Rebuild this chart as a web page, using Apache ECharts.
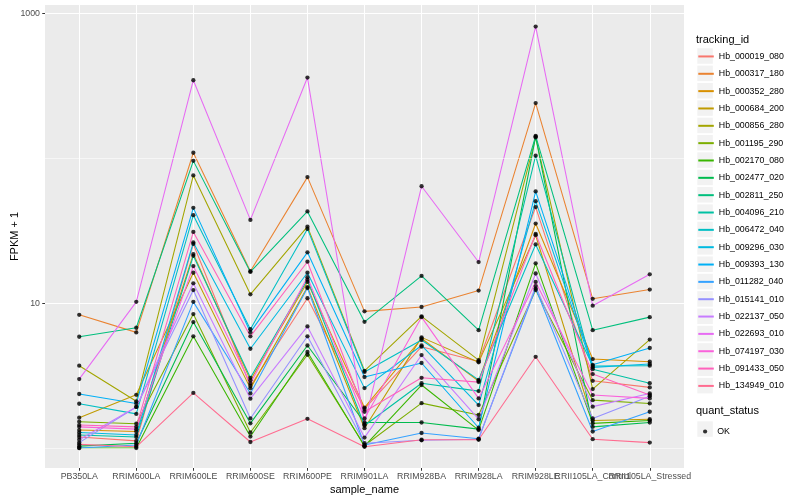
<!DOCTYPE html>
<html><head><meta charset="utf-8">
<script src="https://cdn.jsdelivr.net/npm/echarts@6/dist/echarts.min.js"></script>
<style>html,body{margin:0;padding:0;background:#fff}#c{width:800px;height:500px}</style>
</head><body><div id="c"></div>
<script>
// ---- data ----
const categories = ["PB350LA","RRIM600LA","RRIM600LE","RRIM600SE","RRIM600PE","RRIM901LA","RRIM928BA","RRIM928LA","RRIM928LE","RRII105LA_Control","RRII105LA_Stressed"];
const trackingIds = ["Hb_000019_080","Hb_000317_180","Hb_000352_280","Hb_000684_200","Hb_000856_280","Hb_001195_290","Hb_002170_080","Hb_002477_020","Hb_002811_250","Hb_004096_210","Hb_006472_040","Hb_009296_030","Hb_009393_130","Hb_011282_040","Hb_015141_010","Hb_022137_050","Hb_022693_010","Hb_074197_030","Hb_091433_050","Hb_134949_010"];
const colors = ["#F8766D","#EA8331","#D89000","#C09B00","#A3A500","#7CAE00","#39B600","#00BB4E","#00BF7D","#00C1A3","#00BFC4","#00BAE0","#00B0F6","#35A2FF","#9590FF","#C77CFF","#E76BF3","#FA62DB","#FF62BC","#FF6C90"];
const hb_000019_080 = [1.19, 1.12, 25.6, 2.68, 10.8, 1.86, 5.0, 3.95, 46, 2.91, 2.62];
const hb_000317_180 = [8.3, 6.28, 109, 16.6, 74, 8.77, 9.4, 12.2, 240, 10.7, 12.4];
const hb_000352_280 = [1.33, 1.3, 21.8, 2.94, 14, 1.9, 5.7, 2.9, 35.4, 4.11, 3.94];
const hb_000684_200 = [1.62, 2.33, 16.2, 2.58, 12.9, 1.37, 5.8, 3.9, 29.4, 1.55, 1.58];
const hb_000856_280 = [3.7, 2.1, 76, 11.5, 33.7, 3.41, 8.1, 4.04, 139, 2.55, 5.6];
const hb_001195_290 = [1.52, 1.47, 8.4, 1.28, 4.4, 1.04, 2.04, 1.69, 12.3, 2.14, 2.03];
const hb_002170_080 = [1.0, 1.0, 5.9, 1.2, 4.6, 1.03, 2.72, 1.33, 18.8, 1.48, 1.55];
const hb_002477_020 = [1.03, 1.08, 7.4, 1.48, 5.1, 1.5, 1.5, 1.35, 141, 1.4, 1.5];
const hb_002811_250 = [5.86, 6.76, 95.8, 16.4, 42.9, 7.43, 15.4, 6.5, 142.5, 6.5, 8.0];
const hb_004096_210 = [1.23, 1.19, 21.2, 3.05, 14.5, 1.43, 2.8, 2.47, 104, 3.5, 2.8];
const hb_006472_040 = [2.02, 1.72, 40.4, 6.6, 32.5, 3.35, 5.56, 2.95, 25.4, 3.68, 3.7];
const hb_009296_030 = [1.28, 1.23, 26.2, 4.84, 16.2, 2.59, 5.1, 1.98, 50.5, 3.6, 3.8];
const hb_009393_130 = [2.36, 2.03, 45.4, 6.3, 22.4, 3.09, 3.86, 1.38, 59, 3.75, 4.9];
const hb_011282_040 = [1.0, 1.05, 10.2, 2.38, 12.7, 1.05, 1.27, 1.16, 12.6, 1.3, 1.78];
const hb_015141_010 = [1.09, 1.92, 12.3, 1.6, 5.9, 1.08, 1.13, 1.15, 13.1, 1.6, 2.28];
const hb_022137_050 = [1.14, 1.92, 13.7, 2.19, 6.9, 1.18, 4.38, 1.58, 16, 1.93, 2.38];
const hb_022693_010 = [2.99, 10.2, 345, 37.5, 360, 1.46, 64, 19.2, 809, 9.6, 15.8];
const hb_074197_030 = [1.40, 1.35, 18, 2.79, 15.1, 1.6, 8.0, 2.2, 14, 2.32, 2.2];
const hb_091433_050 = [1.44, 1.4, 31, 5.9, 19.3, 1.78, 3.05, 2.85, 30, 3.24, 2.32];
const hb_134949_010 = [1.06, 1.02, 2.4, 1.1, 1.59, 1.02, 1.14, 1.14, 4.26, 1.15, 1.09];
const seriesValues = [hb_000019_080, hb_000317_180, hb_000352_280, hb_000684_200, hb_000856_280, hb_001195_290, hb_002170_080, hb_002477_020, hb_002811_250, hb_004096_210, hb_006472_040, hb_009296_030, hb_009393_130, hb_011282_040, hb_015141_010, hb_022137_050, hb_022693_010, hb_074197_030, hb_091433_050, hb_134949_010];
const yTickValues = [10, 1000];
const yMinorBreaks = [1, 100];
const quantStatus = "OK";

// ---- chart ----
const FONT = '"Liberation Sans", Arial, Helvetica, sans-serif';
const catIdx = categories.map((_, i) => i);
// split labels over two overlaid axes so ECharts never drops overlapping neighbours
const evenIdx = catIdx.filter(i => i % 2 === 0);
const oddIdx = catIdx.filter(i => i % 2 === 1);
const chart = echarts.init(document.getElementById('c'), null, {renderer: 'canvas'});

const lineSeries = trackingIds.map((id, s) => ({
  name: id, type: 'line', z: 2,
  data: seriesValues[s].map((v, i) => [i, v]),
  symbol: 'none', showSymbol: false,
  lineStyle: {color: colors[s], width: 1.07},
  itemStyle: {color: colors[s]},
  silent: true
}));
const allPoints = [];
seriesValues.forEach(arr => arr.forEach((v, i) => allPoints.push([i, v])));

const keyTop = 48.25, legendStep = 17.35, keySize = 15.5;
const keyRects = trackingIds.map((_, i) => ({
  type: 'rect', silent: true, z: -1,
  shape: {x: 697.3, y: keyTop + i * legendStep, width: keySize, height: keySize},
  style: {fill: '#F2F2F2'}
}));
keyRects.push({type: 'rect', silent: true, z: -1,
  shape: {x: 697.3, y: 421.3, width: keySize, height: keySize}, style: {fill: '#F2F2F2'}});

function xAxisDef(values, withName) {
  return {
    type: 'value', min: -0.6, max: 10.6, position: 'bottom', offset: 0, gridIndex: 0,
    name: withName ? 'sample_name' : '', nameLocation: 'middle', nameGap: 16, nameMoveOverlap: false,
    nameTextStyle: {fontFamily: FONT, fontSize: 11, color: '#000'},
    axisLine: {show: false, onZero: false},
    axisTick: {show: true, customValues: values, length: 2.75, lineStyle: {color: '#333333', width: 1}},
    axisLabel: {customValues: values, formatter: v => categories[Math.round(v)], margin: 4.5,
      color: '#4D4D4D', fontSize: 8.8, fontFamily: FONT, hideOverlap: false, showMinLabel: true, showMaxLabel: true},
    splitLine: {show: true, lineStyle: {color: '#ffffff', width: 1.07}}
  };
}

const option = {
  animation: false,
  backgroundColor: '#ffffff',
  textStyle: {fontFamily: FONT},
  title: [
    {text: 'tracking_id', left: 696, top: 34.5, padding: 0,
     textStyle: {fontFamily: FONT, fontSize: 11, fontWeight: 'normal', color: '#000'}},
    {text: 'quant_status', left: 696, top: 405.5, padding: 0,
     textStyle: {fontFamily: FONT, fontSize: 11, fontWeight: 'normal', color: '#000'}}
  ],
  grid: {left: 45, right: 116, top: 5, bottom: 32, show: true, backgroundColor: '#EBEBEB', borderWidth: 0,
         containLabel: false, outerBoundsMode: 'none'},
  xAxis: [xAxisDef(evenIdx, true), xAxisDef(oddIdx, false)],
  yAxis: {
    type: 'log', logBase: 10, min: 0.728, max: 1140,
    name: 'FPKM + 1', nameLocation: 'middle', nameGap: 25, nameMoveOverlap: false,
    nameTextStyle: {fontFamily: FONT, fontSize: 11, color: '#000'},
    axisLine: {show: false, onZero: false},
    axisTick: {show: true, customValues: yTickValues, length: 2.75, lineStyle: {color: '#333333', width: 1}},
    axisLabel: {customValues: yTickValues, formatter: v => String(Math.round(v)), margin: 5,
      color: '#4D4D4D', fontSize: 8.8, fontFamily: FONT, showMinLabel: true, showMaxLabel: true},
    splitLine: {show: true, lineStyle: {color: '#ffffff', width: 1.07}},
    minorSplitLine: {show: false}
  },
  legend: [
    {data: trackingIds, orient: 'vertical', left: 697.3, top: 50.25, padding: 0,
     itemWidth: keySize, itemHeight: keySize, itemGap: 4.94, selectedMode: false,
     itemStyle: {opacity: 0},
     textStyle: {fontFamily: FONT, fontSize: 8.8, color: '#000'}},
    {data: [{name: quantStatus, icon: 'circle'}], orient: 'vertical', left: 703, top: 427, padding: 0,
     itemWidth: 4.2, itemHeight: 4.2, selectedMode: false,
     textStyle: {fontFamily: FONT, fontSize: 8.8, color: '#000', padding: [0, 0, 0, 5]}}
  ],
  graphic: {elements: keyRects},
  series: [
    {type: 'line', name: '_grid', data: [], z: 1, silent: true,
     markLine: {silent: true, symbol: ['none', 'none'], label: {show: false},
       lineStyle: {color: '#ffffff', width: 0.55, type: 'solid'},
       data: yMinorBreaks.map(v => ({yAxis: v}))}},
    ...lineSeries,
    {name: quantStatus, type: 'scatter', z: 5, silent: true, data: allPoints,
     symbol: 'circle', symbolSize: 4.3, itemStyle: {color: '#000000'}}
  ]
};
chart.setOption(option);
</script>
</body></html>
